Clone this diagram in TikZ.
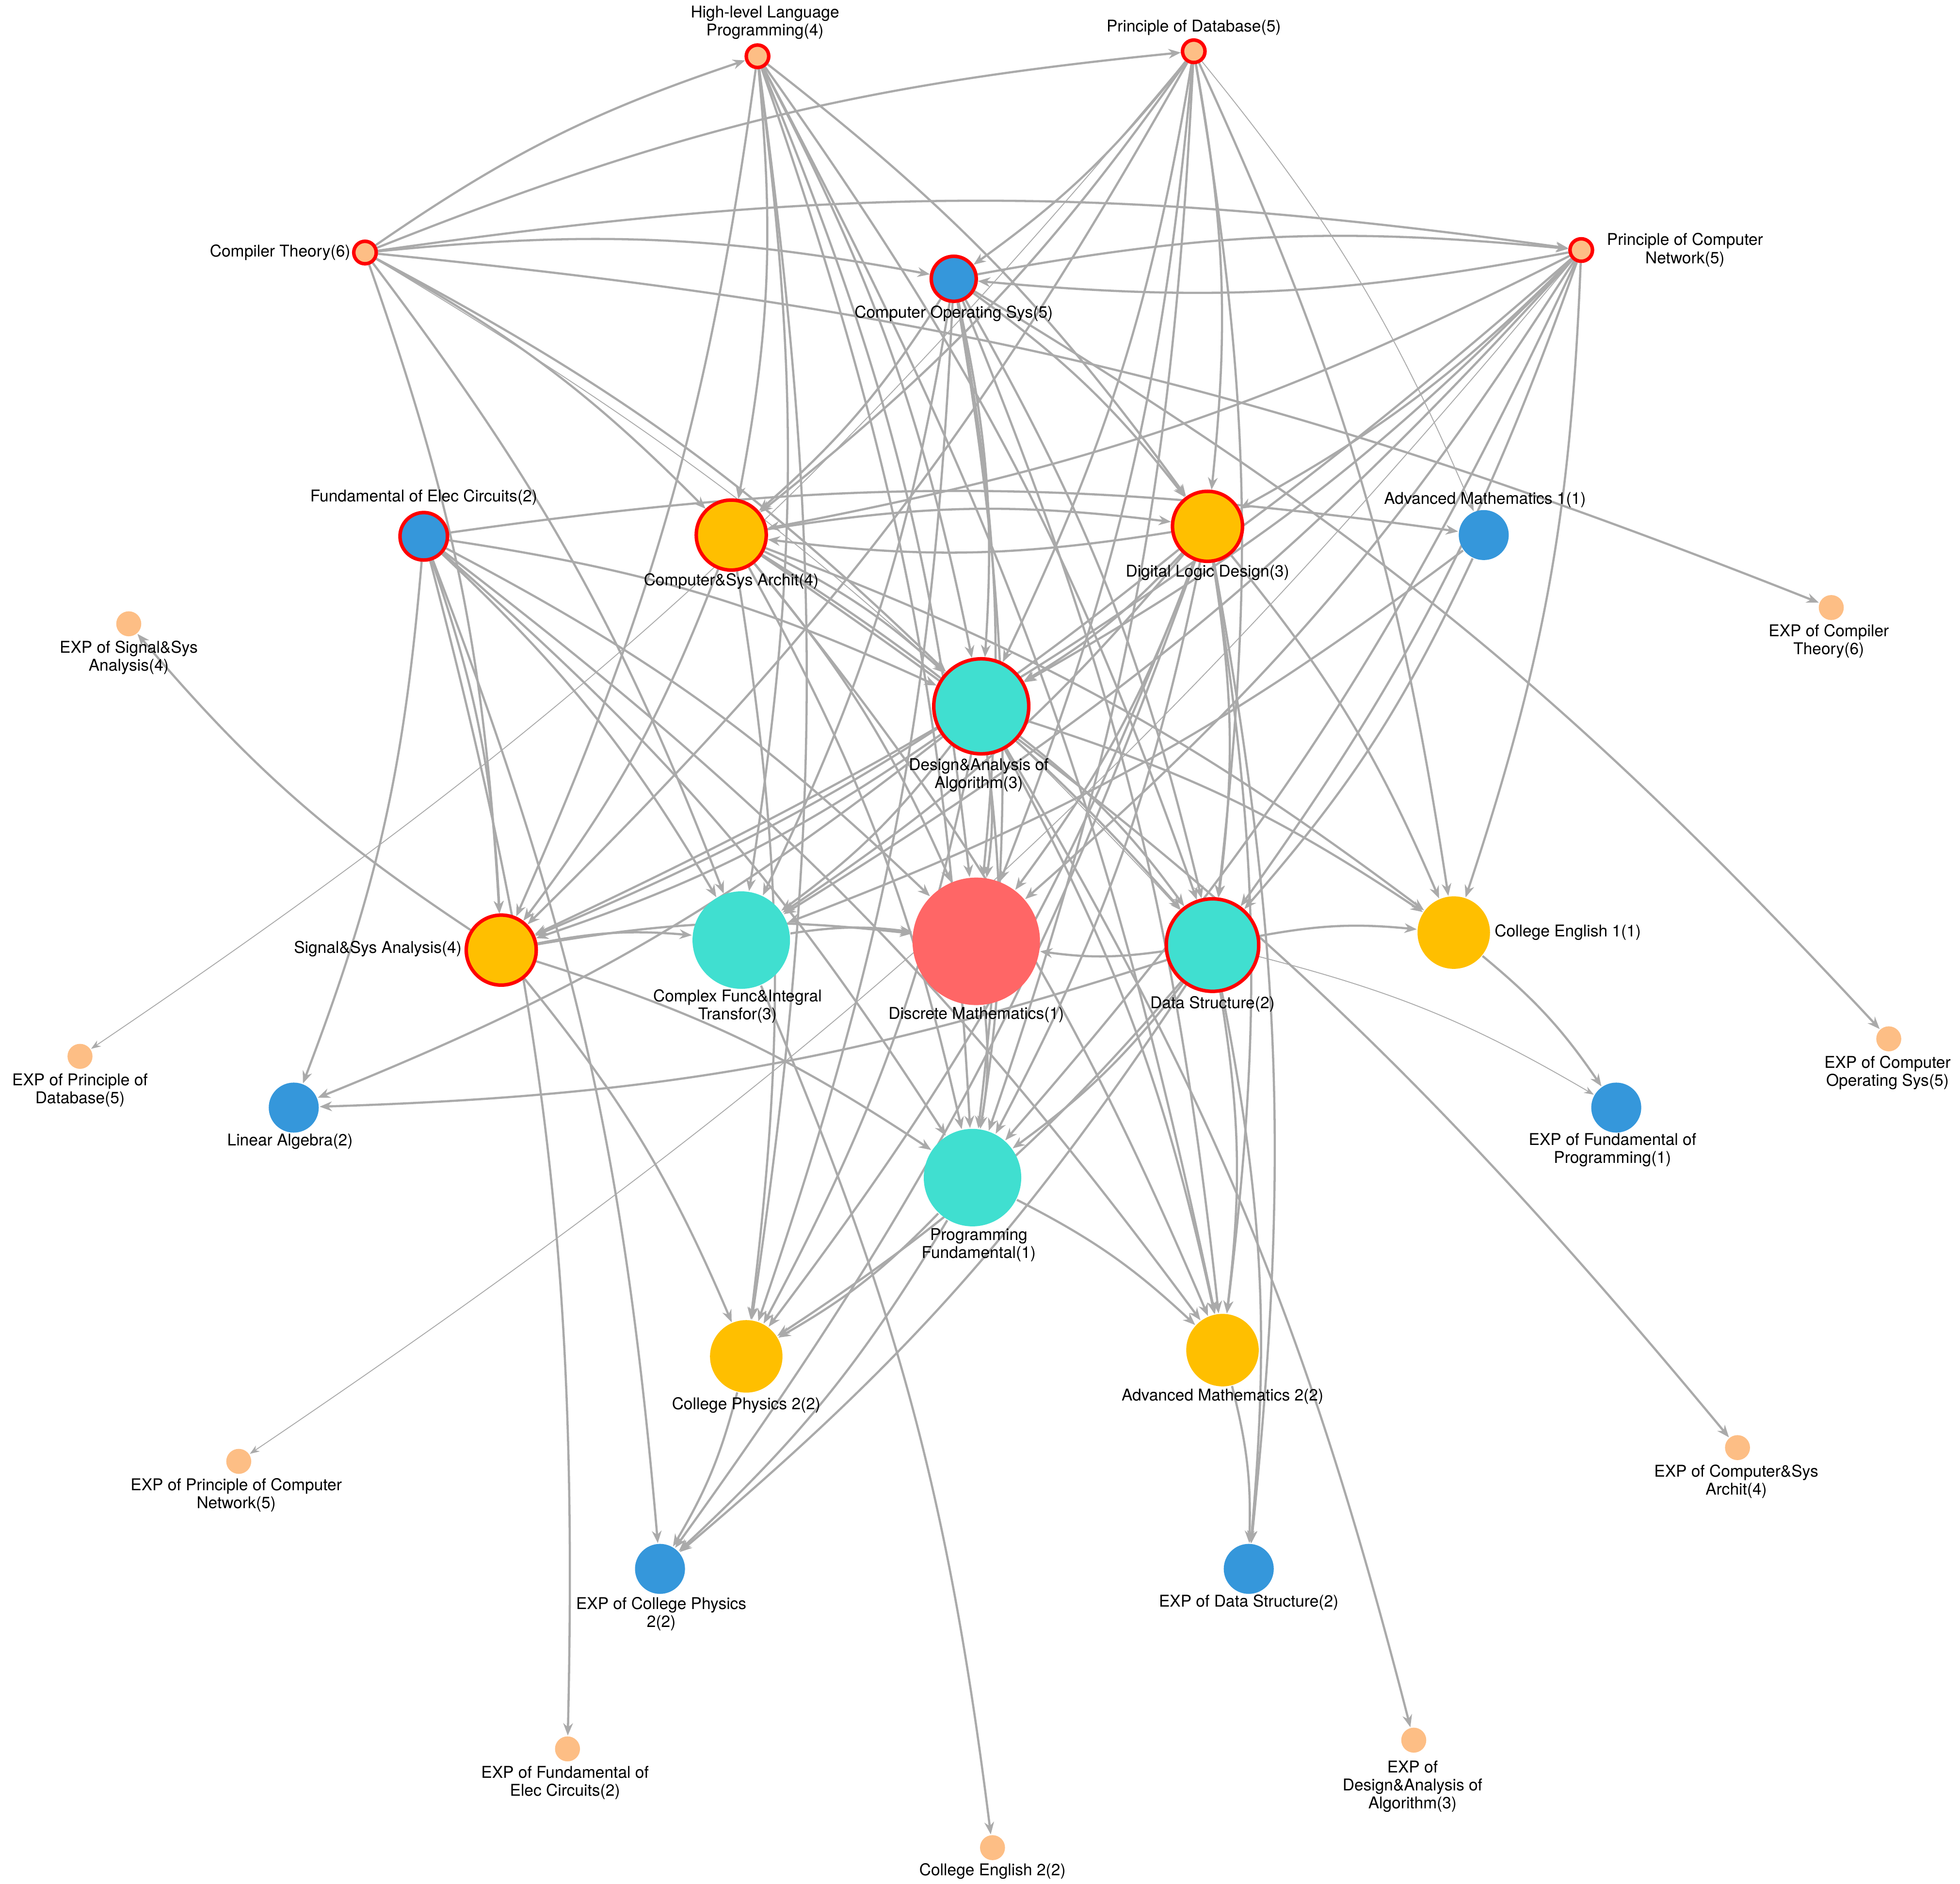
\documentclass[tikz,border=0pt]{standalone}
\usepackage{fontspec}
\setmainfont{TeX Gyre Heros}
\usetikzlibrary{arrows.meta}
\pgfdeclarelayer{back}
\pgfdeclarelayer{bg}
\pgfsetlayers{back,bg,main}
\definecolor{cyel}{HTML}{FFBF00}
\definecolor{ctur}{HTML}{40DFD0}
\definecolor{cblu}{HTML}{3597DB}
\definecolor{corg}{HTML}{FDBE85}
\definecolor{cred}{HTML}{FF6666}
\definecolor{cedge}{HTML}{AAAAAA}
\tikzset{
 nd/.style={circle,inner sep=0pt,minimum size=#1*0.1mm},
 rb/.style={draw=red,line width=0.8pt},
 txt/.style={font=\fontsize{3.7}{4.1}\selectfont,align=center,inner sep=0pt},
 ed/.style={draw=cedge,line width=0.5pt,-{Stealth[length=2.8pt,width=2.2pt]},bend left=8},
 edt/.style={draw=cedge,line width=0.2pt,-{Stealth[length=2.2pt,width=1.6pt]},bend left=8}
}
\begin{document}
\begin{tikzpicture}[x=0.1mm,y=-0.1mm]
\useasboundingbox (0,0) rectangle (1568,1507);
\begin{pgfonlayer}{back}
\fill[white] (0,0) rectangle (1568,1507);
\end{pgfonlayer}
% nodes
\node[nd=18,fill=corg,rb] (HLP) at (606,45) {};
\node[nd=18,fill=corg,rb] (PDB) at (955,41) {};
\node[nd=18,fill=corg,rb] (CT) at (292,202) {};
\node[nd=18,fill=corg,rb] (PCN) at (1265,200) {};
\node[nd=36,fill=cblu,rb] (COS) at (763,223) {};
\node[nd=38,fill=cblu,rb] (FEC) at (339,429) {};
\node[nd=56,fill=cyel,rb] (CSA) at (585,428) {};
\node[nd=56,fill=cyel,rb] (DLD) at (966,421) {};
\node[nd=40,fill=cblu] (AM1) at (1187,428) {};
\node[nd=20,fill=corg] (EXPCT) at (1465,486) {};
\node[nd=20,fill=corg] (EXPSSA) at (103,499) {};
\node[nd=76,fill=ctur,rb] (DAA) at (785,565) {};
\node[nd=56,fill=cyel,rb] (SSA) at (401,760) {};
\node[nd=78,fill=ctur] (CFIT) at (593,752) {};
\node[nd=102,fill=cred] (DM) at (781,753) {};
\node[nd=74,fill=ctur,rb] (DS) at (970,756) {};
\node[nd=58,fill=cyel] (CE1) at (1163,746) {};
\node[nd=20,fill=corg] (EXPPDB) at (64,845) {};
\node[nd=20,fill=corg] (EXPCOS) at (1511,831) {};
\node[nd=40,fill=cblu] (LA) at (235,886) {};
\node[nd=40,fill=cblu] (EXPFP) at (1293,886) {};
\node[nd=78,fill=ctur] (PF) at (778,942) {};
\node[nd=58,fill=cyel] (CP2) at (597,1085) {};
\node[nd=58,fill=cyel] (AM2) at (978,1080) {};
\node[nd=20,fill=corg] (EXPPCN) at (191,1169) {};
\node[nd=20,fill=corg] (EXPCSA) at (1390,1158) {};
\node[nd=40,fill=cblu] (EXPCP2) at (528,1255) {};
\node[nd=40,fill=cblu] (EXPDS) at (999,1255) {};
\node[nd=20,fill=corg] (EXPFEC) at (454,1399) {};
\node[nd=20,fill=corg] (EXPDAA) at (1131,1392) {};
\node[nd=20,fill=corg] (CE2) at (794,1478) {};
% labels
\node[txt] (tHLP) at (612,18) {High-level Language\\Programming(4)};
\node[txt] (tPDB) at (955,22) {Principle of Database(5)};
\node[txt,anchor=east] (tCT) at (281,202) {Compiler Theory(6)};
\node[txt] (tPCN) at (1348,200) {Principle of Computer\\Network(5)};
\node[txt] (tCOS) at (763,251) {Computer Operating Sys(5)};
\node[txt] (tFEC) at (339,398) {Fundamental of Elec Circuits(2)};
\node[txt] (tCSA) at (585,465) {Computer\&Sys Archit(4)};
\node[txt] (tDLD) at (966,458) {Digital Logic Design(3)};
\node[txt] (tAM1) at (1188,400) {Advanced Mathematics 1(1)};
\node[txt] (tEXPCT) at (1463,513) {EXP of Compiler\\Theory(6)};
\node[txt] (tEXPSSA) at (103,526) {EXP of Signal\&Sys\\Analysis(4)};
\node[txt] (tDAA) at (783,620) {Design\&Analysis of\\Algorithm(3)};
\node[txt,anchor=east] (tSSA) at (370,759) {Signal\&Sys Analysis(4)};
\node[txt] (tCFIT) at (590,805) {Complex Func\&Integral\\Transfor(3)};
\node[txt] (tDM) at (781,812) {Discrete Mathematics(1)};
\node[txt] (tDS) at (970,803) {Data Structure(2)};
\node[txt,anchor=west] (tCE1) at (1195,746) {College English 1(1)};
\node[txt] (tEXPPDB) at (64,872) {EXP of Principle of\\Database(5)};
\node[txt] (tEXPCOS) at (1510,858) {EXP of Computer\\Operating Sys(5)};
\node[txt] (tLA) at (232,913) {Linear Algebra(2)};
\node[txt] (tEXPFP) at (1290,920) {EXP of Fundamental of\\Programming(1)};
\node[txt] (tPF) at (783,996) {Programming\\Fundamental(1)};
\node[txt] (tCP2) at (597,1124) {College Physics 2(2)};
\node[txt] (tAM2) at (978,1117) {Advanced Mathematics 2(2)};
\node[txt] (tEXPPCN) at (189,1196) {EXP of Principle of Computer\\Network(5)};
\node[txt] (tEXPCSA) at (1389,1185) {EXP of Computer\&Sys\\Archit(4)};
\node[txt] (tEXPCP2) at (529,1291) {EXP of College Physics\\2(2)};
\node[txt] (tEXPDS) at (999,1282) {EXP of Data Structure(2)};
\node[txt] (tEXPFEC) at (452,1426) {EXP of Fundamental of\\Elec Circuits(2)};
\node[txt] (tEXPDAA) at (1130,1429) {EXP of\\Design\&Analysis of\\Algorithm(3)};
\node[txt] (tCE2) at (794,1497) {College English 2(2)};
% edges
\begin{pgfonlayer}{bg}
\foreach \a/\b in {CT/HLP,CT/PDB,CT/COS,CT/PCN,CT/CSA,CT/DAA,CT/CFIT,CT/SSA,
 HLP/CSA,HLP/DLD,HLP/DAA,HLP/DM,HLP/DS,HLP/CFIT,HLP/PF,HLP/CP2,HLP/AM2,HLP/SSA,
 PDB/COS,PDB/CSA,PDB/DLD,PDB/DAA,PDB/DM,PDB/DS,PDB/CE1,PDB/SSA,PDB/PF,
 PCN/COS,PCN/CSA,PCN/DLD,PCN/DAA,PCN/DM,PCN/DS,PCN/CE1,PCN/SSA,PCN/PF,PCN/CFIT,
 COS/PCN,COS/CSA,COS/DLD,COS/DAA,COS/DM,COS/DS,COS/PF,COS/CP2,COS/CFIT,COS/EXPCOS,COS/AM2,
 FEC/AM1,FEC/DAA,FEC/DM,FEC/SSA,FEC/LA,FEC/CFIT,FEC/EXPFEC,FEC/EXPCP2,FEC/PF,FEC/AM2,
 CSA/DLD,CSA/DAA,CSA/DM,CSA/DS,CSA/PF,CSA/CP2,CSA/AM2,CSA/EXPCSA,CSA/CE1,CSA/SSA,
 DLD/CSA,DLD/DAA,DLD/DM,DLD/DS,DLD/CE1,DLD/AM2,DLD/CP2,DLD/PF,DLD/SSA,DLD/CFIT,DLD/EXPDS,DLD/EXPCP2,
 DAA/DM,DAA/DS,DAA/PF,DAA/CE1,DAA/AM2,DAA/CFIT,DAA/SSA,DAA/LA,DAA/EXPDAA,DAA/CP2,
 SSA/CFIT,SSA/DM,SSA/CP2,SSA/PF,SSA/EXPSSA,CFIT/DM,CFIT/CE2,
 DS/DM,DS/CE1,DS/PF,DS/AM2,DS/EXPDS,DS/LA,DS/CP2,DS/EXPCP2,AM1/DS,AM1/CFIT,
 CE1/EXPFP,PF/CP2,PF/AM2,PF/EXPCP2,AM2/EXPDS,CP2/EXPCP2,DM/PF,CT/EXPCT}
 {\draw[ed] (\a) to (\b);}
\foreach \a/\b in {PCN/EXPPCN,PDB/EXPPDB,DS/EXPFP,CT/DS,HLP/DS,COS/AM2,PDB/AM1}
 {\draw[edt] (\a) to (\b);}
\end{pgfonlayer}
\end{tikzpicture}
\end{document}
